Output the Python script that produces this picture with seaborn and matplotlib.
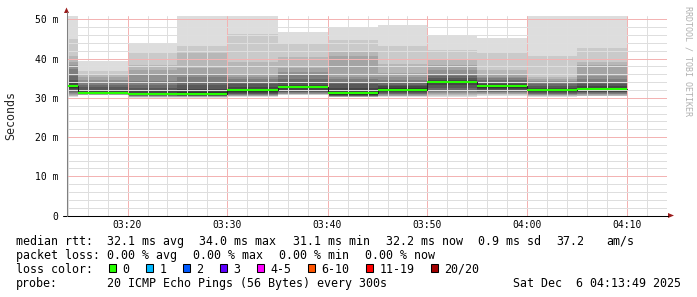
import numpy as np
import pandas as pd
import matplotlib
matplotlib.use("Agg")
import matplotlib.pyplot as plt
from matplotlib.patches import Polygon, Rectangle
from matplotlib.lines import Line2D
from matplotlib.transforms import Affine2D
import seaborn as sns

# ---------------- data ----------------
# end of each 5-minute bin, in minutes after 03:00
bin_end_min = [15, 20, 25, 30, 35, 40, 45, 50, 55, 60, 65, 70]
# median rtt per bin (ms)
median_ms = [32.9, 31.2, 31.1, 31.1, 31.9, 32.7, 31.2, 32.1, 34.0, 32.9, 32.0, 32.2]
# 20 sorted ping rtts (ms) per bin (the "smoke")
pings_0315 = [30.3, 30.5, 30.6, 30.8, 31.0, 31.3, 31.6, 31.9, 32.2, 32.6,
              33.2, 34.0, 34.5, 35.7, 37.4, 38.3, 39.1, 40.6, 45.0, 51.0]
pings_0320 = [30.7, 30.75, 30.8, 30.85, 30.9, 30.9, 30.95, 31.0, 31.0, 31.0,
              31.4, 32.0, 32.7, 33.2, 33.7, 34.5, 35.4, 36.2, 36.9, 39.4]
pings_0325 = [30.0, 30.1, 30.2, 30.3, 30.4, 30.5, 30.6, 30.7, 30.8, 30.9,
              31.3, 31.8, 32.4, 33.2, 34.3, 36.0, 37.0, 38.3, 41.5, 44.1]
pings_0330 = [30.0, 30.1, 30.2, 30.3, 30.4, 30.5, 30.55, 30.6, 30.7, 30.8,
              31.4, 32.2, 33.2, 34.1, 35.4, 36.2, 37.5, 41.4, 43.3, 51.1]
pings_0335 = [30.3, 30.4, 30.5, 30.6, 30.7, 30.8, 31.0, 31.1, 31.3, 31.6,
              32.2, 32.8, 33.5, 34.0, 34.8, 35.4, 36.2, 39.2, 46.2, 51.1]
pings_0340 = [30.7, 30.8, 30.9, 31.0, 31.1, 31.2, 31.4, 31.6, 32.0, 32.5,
              32.9, 33.4, 34.1, 34.9, 35.8, 36.6, 37.5, 40.5, 44.1, 46.8]
pings_0345 = [30.1, 30.15, 30.2, 30.3, 30.35, 30.4, 30.5, 30.6, 30.7, 30.8,
              31.6, 32.6, 33.5, 34.1, 34.7, 35.4, 40.8, 41.6, 44.7, 48.0]
pings_0350 = [30.3, 30.4, 30.5, 30.6, 30.8, 30.9, 31.1, 31.3, 31.5, 31.8,
              32.4, 32.9, 33.4, 33.9, 34.5, 35.4, 36.4, 38.6, 43.2, 48.5]
pings_0355 = [30.3, 30.5, 30.7, 30.9, 31.2, 31.5, 32.0, 32.6, 33.2, 33.8,
              34.2, 34.6, 35.0, 35.5, 36.0, 37.1, 38.3, 40.0, 42.3, 46.1]
pings_0400 = [30.5, 30.7, 30.9, 31.0, 31.2, 31.4, 31.6, 31.9, 32.2, 32.6,
              33.2, 33.6, 34.0, 34.5, 35.0, 35.4, 36.2, 37.0, 41.5, 45.3]
pings_0405 = [30.3, 30.5, 30.6, 30.7, 30.8, 30.9, 31.1, 31.3, 31.5, 31.8,
              32.2, 32.6, 33.0, 33.5, 34.0, 34.4, 34.8, 35.3, 40.6, 50.9]
pings_0410 = [30.4, 30.5, 30.6, 30.8, 30.9, 31.0, 31.2, 31.4, 31.6, 31.9,
              32.5, 33.0, 33.5, 34.1, 34.8, 35.5, 38.5, 39.2, 42.7, 51.1]
pings = [pings_0315, pings_0320, pings_0325, pings_0330, pings_0335, pings_0340,
         pings_0345, pings_0350, pings_0355, pings_0400, pings_0405, pings_0410]

x_tick_min = [20, 30, 40, 50, 60, 70]
x_tick_labels = ["03:20", "03:30", "03:40", "03:50", "04:00", "04:10"]
y_tick_ms = [0, 10, 20, 30, 40, 50]
y_tick_labels = ["0", "10 m", "20 m", "30 m", "40 m", "50 m"]

rtt_stats = [32.1, 34.0, 31.1, 32.2]      # avg, max, min, now (ms)
rtt_sd = 0.9
rtt_amps = 37.2
loss_stats = [0.00, 0.00, 0.00, 0.00]     # avg, max, min, now (%)
loss_labels = ["0", "1", "2", "3", "4-5", "6-10", "11-19", "20/20"]
loss_colors = ["#26ff00", "#00b8ff", "#0059ff", "#5e00ff",
               "#ff00ff", "#ff5500", "#ff0000", "#a10000"]
probe_text = "20 ICMP Echo Pings (56 Bytes) every 300s"
date_text = "Sat Dec  6 04:13:49 2025"

# ---------------- style ----------------
sns.set_style("white")
plt.rcParams["font.family"] = ["DejaVu Sans Mono"]
MONO = "DejaVu Sans Mono"

W, H = 697, 297
fig = plt.figure(figsize=(W / 100, H / 100), dpi=100)
fig.patch.set_facecolor("white")
PX = Affine2D().scale(1.0 / W, -1.0 / H).translate(0, 1) + fig.transFigure

AX_L, AX_T, AX_R, AX_B = 66.5, 15.5, 666.5, 215.5
ax = fig.add_axes([AX_L / W, 1 - AX_B / H, (AX_R - AX_L) / W, (AX_B - AX_T) / H])
ax.set_facecolor("white")

x0, x1 = 13.9, 73.9
ax.set_xlim(x0, x1)
ax.set_ylim(0, 51.0)

# smoke: nested bands between ping i and ping (21-i)
step = 5
edges = [bin_end_min[0] - step] + bin_end_min
half = 10
for i in range(1, half + 1):
    g = int(190 / half * (half - i)) + 50
    col = "#%02x%02x%02x" % (g, g, g)
    lo = [p[i - 1] for p in pings]
    hi = [p[20 - i] for p in pings]
    ax.fill_between(edges, lo + [lo[-1]], hi + [hi[-1]], step="post",
                    color=col, lw=0, zorder=1)

# median: dark step line + green segments
df = pd.DataFrame({"t": edges, "median": median_ms + [median_ms[-1]]})
sns.lineplot(data=df, x="t", y="median", drawstyle="steps-post", color="#202020",
             lw=0.75, ax=ax, zorder=3, estimator=None, legend=False)
starts = [e - step for e in bin_end_min]
ax.hlines(median_ms, starts, bin_end_min, colors=loss_colors[0], lw=1.5, zorder=4)

# grid (minor positions exclude the major ones)
ax.set_xticks(x_tick_min)
ax.set_xticklabels(x_tick_labels)
ax.set_xticks([v for v in range(14, 74, 2) if v % 10 != 0], minor=True)
ax.set_yticks(y_tick_ms)
ax.set_yticklabels(y_tick_labels)
ax.set_yticks([v for v in range(2, 51, 2) if v % 10 != 0], minor=True)
ax.set_axisbelow(False)
ax.grid(which="major", color="#f3b3b3", lw=0.72, ls="-")
ax.grid(which="minor", color="#dedede", lw=0.72, ls="-")
ax.set_xlabel("")
ax.set_ylabel("")
for s in ax.spines.values():
    s.set_visible(False)
ax.tick_params(axis="x", which="both", length=0, pad=3.0, labelsize=7, labelcolor="#000000")
ax.tick_params(axis="y", which="major", length=3, width=0.75, color="#e8a0a0",
               pad=3.0, labelsize=7, labelcolor="#000000", direction="out")
ax.tick_params(axis="y", which="minor", length=2, width=0.75, color="#c8c8c8", direction="out")
for lab in ax.get_xticklabels() + ax.get_yticklabels():
    lab.set_family(MONO)

# axis lines and arrows
fig.add_artist(Line2D([62.5, 668], [215.5, 215.5], transform=PX, color="#000000", lw=0.75))
fig.add_artist(Line2D([66.5, 66.5], [215.5, 12], transform=PX, color="#808080", lw=0.75))
fig.add_artist(Polygon([[66.5, 7.5], [64, 13], [69, 13]], closed=True, transform=PX,
                       facecolor="#9b1c1c", edgecolor="none"))
fig.add_artist(Polygon([[674, 215.5], [668, 213], [668, 218]], closed=True, transform=PX,
                       facecolor="#9b1c1c", edgecolor="none"))

# texts
fig.text(10.5, 115, "Seconds", transform=PX, rotation=90, ha="center", va="center",
         fontsize=8.4, family=MONO)
fig.text(688, 6, "RRDTOOL / TOBI OETIKER", transform=PX, rotation=-90, ha="center",
         va="top", fontsize=6, family=MONO, color="#b0b0b0")

FS = 8.4
def t(x, y, s, **kw):
    fig.text(x - 0.7, y, s, transform=PX, va="baseline", ha="left", fontsize=FS,
             family=MONO, color="#000000", **kw)

r1, r2, r3, r4 = 244.7, 258.7, 272.6, 286.6
t(16.7, r1, "median rtt:")
for xx, v, nm in zip([107.7, 200.0, 293.3, 386.7], rtt_stats, ["avg", "max", "min", "now"]):
    t(xx, r1, f"{v:.1f} ms {nm}")
t(479.0, r1, f"{rtt_sd:.1f} ms sd")
t(557.3, r1, f"{rtt_amps:.1f}")
t(606.7, r1, "am/s")

t(16.7, r2, "packet loss:")
for xx, v, nm in zip([107.7, 194.0, 280.0, 365.7], loss_stats, ["avg", "max", "min", "now"]):
    t(xx, r2, f"{v:.2f} % {nm}")

t(16.7, r3, "loss color:")
bx = 108.7
for lab, col in zip(loss_labels, loss_colors):
    fig.add_artist(Rectangle((bx, 264.0), 7.5, 8.0, transform=PX, facecolor=col,
                             edgecolor="#000000", lw=0.75))
    lx = bx + 14.6
    t(lx, r3, lab)
    bx = lx + 7.0 * len(lab) + 15.4

t(16.7, r4, "probe:")
t(107.7, r4, probe_text)
t(513.3, r4, date_text)

fig.savefig("out.png", dpi=100, facecolor="white")
